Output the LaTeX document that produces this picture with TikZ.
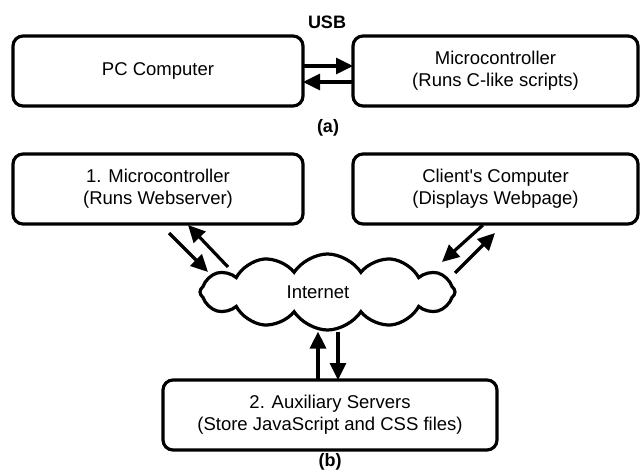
\documentclass[tikz,border=0pt]{standalone}
\usepackage{fontspec}
\setmainfont{Liberation Sans}
\usetikzlibrary{shapes.symbols, arrows.meta}

\begin{document}
\begin{tikzpicture}[x=1pt, y=-1pt,
    blok/.style={draw, line width=3.2pt, rounded corners=10pt, outer sep=0pt,
      align=center, minimum height=70pt, font=\fontsize{18.5}{22}\selectfont},
    strelka/.style={line width=3.2pt, -{Triangle[length=17pt, width=16pt]}},
    podpis/.style={font=\bfseries\fontsize{18}{21}\selectfont}]
				% Рамка рисунка
				\useasboundingbox (0,0) rectangle (640,476);
				
				% Часть (a): компьютер и микроконтроллер
				\node[blok, minimum width=290pt] (pc) at (158,71) {PC Computer};
				\node[blok, minimum width=285pt] (mk) at (495.5,71) {Microcontroller\\(Runs C-like scripts)};
				\node[podpis] (usb) at (327,22) {USB};
				\draw[strelka] ([yshift=5pt]pc.east) -- ([yshift=5pt]mk.west);
				\draw[strelka] ([yshift=-11pt]mk.west) -- ([yshift=-11pt]pc.east);
				\node[podpis] (a) at (328,128) {(a)};
				
				% Часть (b): узлы вокруг интернета
				\node[blok, minimum width=290pt] (web) at (158,189) {1. Microcontroller\\(Runs Webserver)};
				\node[blok, minimum width=285pt] (client) at (495.5,189) {Client\textquotesingle s Computer\\(Displays Webpage)};
				\node[blok, minimum width=334pt] (srv) at (330,415) {2. Auxiliary Servers\\(Store JavaScript and CSS files)};
				\node[cloud, draw, line width=3.2pt, cloud puffs=12, cloud puff arc=115,
				  cloud ignores aspect, minimum width=255pt, minimum height=76pt] (inet) at (327.5,292) {};
				\node[font=\fontsize{18.5}{22}\selectfont] (inettext) at (318,292) {Internet};
				\node[podpis] (b) at (330,462) {(b)};
				
				% Концы диагональных стрелок
				\coordinate (l1) at (169,233);
				\coordinate (l2) at (208,272);
				\coordinate (l3) at (228,267);
				\coordinate (l4) at (188,225);
				\coordinate (r1) at (483,225);
				\coordinate (r2) at (442,262);
				\coordinate (r3) at (455,273);
				\coordinate (r4) at (495,233);
				
				% Стрелки
				\draw[strelka] (l1) -- (l2);
				\draw[strelka] (l3) -- (l4);
				\draw[strelka] (r1) -- (r2);
				\draw[strelka] (r3) -- (r4);
				\draw[strelka] ([xshift=-12pt]srv.north) -- ([xshift=-12pt]srv.north |- inet.south);
				\draw[strelka] ([xshift=8pt]srv.north |- inet.south) -- ([xshift=8pt]srv.north);
			\end{tikzpicture}
\end{document}
